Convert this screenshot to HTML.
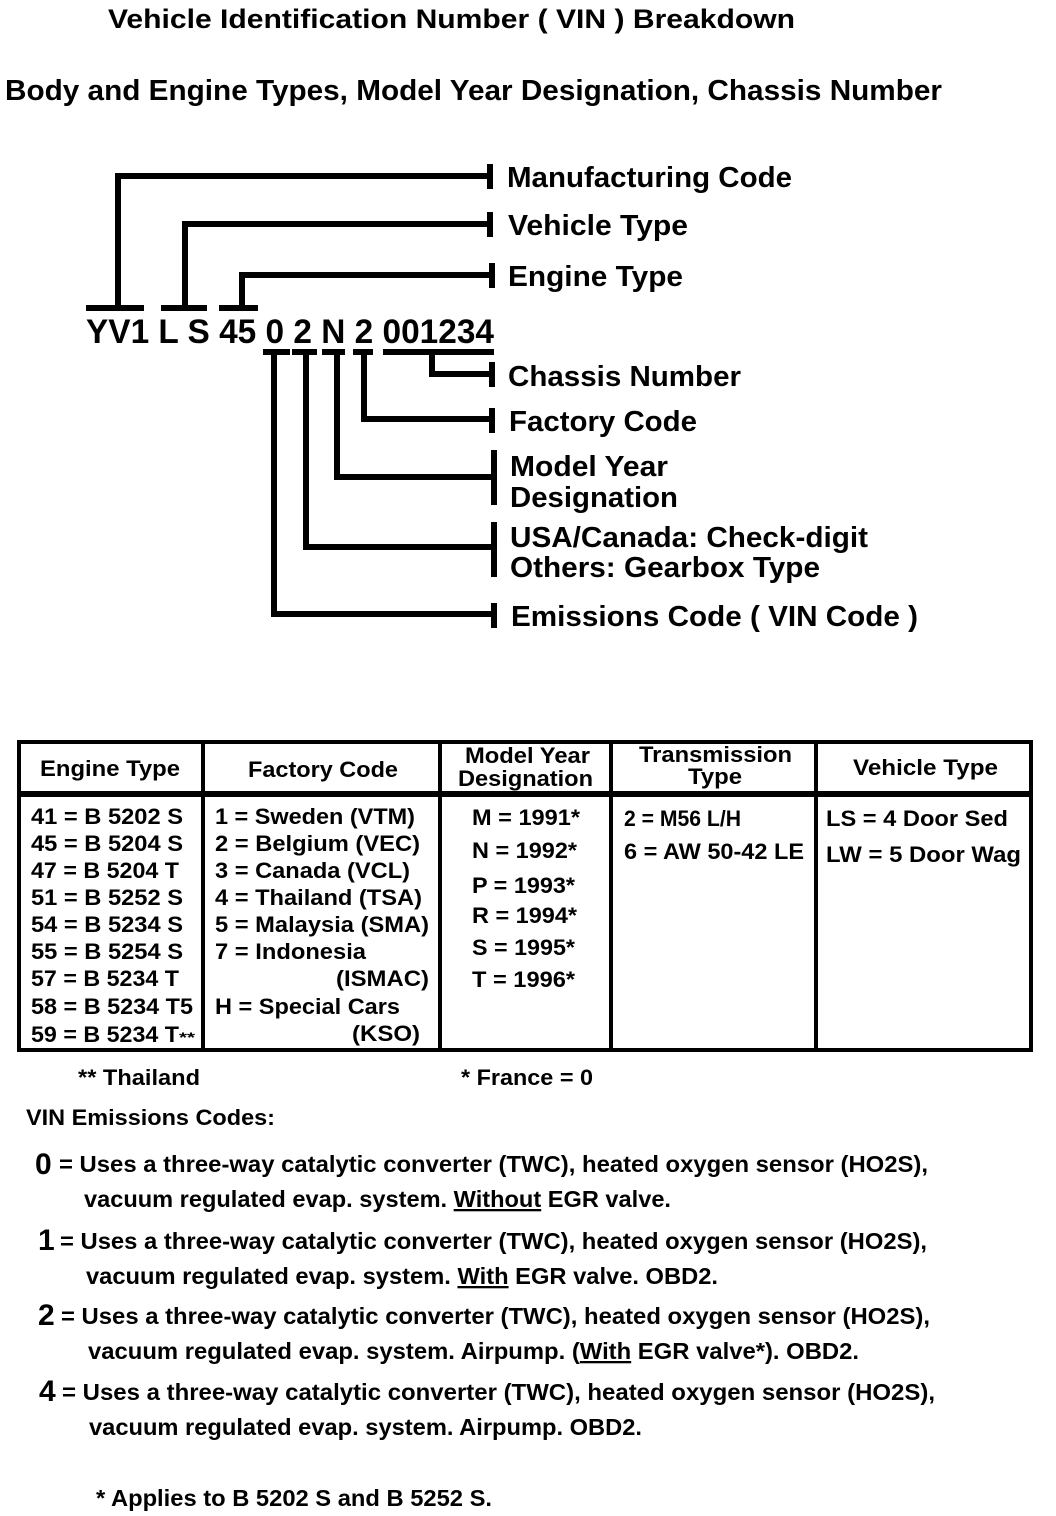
<!DOCTYPE html>
<html><head><meta charset="utf-8"><style>
html,body{margin:0;padding:0;background:#fff;}
svg{display:block;}
text{font-family:"Liberation Sans",Arial,sans-serif;font-weight:bold;fill:#000;}
</style></head><body>
<svg width="1056" height="1516" viewBox="0 0 1056 1516" xmlns="http://www.w3.org/2000/svg">
<g lengthAdjust="spacingAndGlyphs">
<text x="108" y="28" font-size="27" textLength="687" lengthAdjust="spacingAndGlyphs">Vehicle  Identification Number ( VIN ) Breakdown</text>
<text x="5" y="100" font-size="29" textLength="937" lengthAdjust="spacingAndGlyphs">Body and Engine Types, Model Year Designation, Chassis Number</text>
</g>

<!-- connectors -->
<g stroke="#000" stroke-width="6" fill="none">
<polyline points="118,306 118,176 490,176"/>
<line x1="490" y1="164" x2="490" y2="189"/>
<polyline points="185,306 185,224 490,224"/>
<line x1="490" y1="212" x2="490" y2="237"/>
<polyline points="242,306 242,275 492,275"/>
<line x1="492" y1="263" x2="492" y2="288"/>
<line x1="86" y1="308" x2="144" y2="308"/>
<line x1="161" y1="308" x2="207" y2="308"/>
<line x1="219" y1="308" x2="258" y2="308"/>

<line x1="263" y1="352" x2="290" y2="352"/>
<line x1="292" y1="352" x2="317" y2="352"/>
<line x1="322" y1="352" x2="345" y2="352"/>
<line x1="353" y1="352" x2="373" y2="352"/>
<line x1="383" y1="352" x2="494" y2="352"/>
<polyline points="432,352 432,374 492,374"/>
<line x1="492" y1="362" x2="492" y2="387"/>
<polyline points="364,352 364,419 492,419"/>
<line x1="492" y1="408" x2="492" y2="433"/>
<polyline points="337,352 337,477 494,477"/>
<line x1="494" y1="450" x2="494" y2="505"/>
<polyline points="306,352 306,547 494,547"/>
<line x1="494" y1="522" x2="494" y2="577"/>
<polyline points="274,352 274,614 494,614"/>
<line x1="494" y1="603" x2="494" y2="628"/>
</g>

<text x="86" y="343" font-size="34" textLength="408" lengthAdjust="spacingAndGlyphs">YV1 L S 45 0 2 N 2 001234</text>

<g font-size="29">
<text x="507" y="187" textLength="285" lengthAdjust="spacingAndGlyphs">Manufacturing Code</text>
<text x="508" y="235" textLength="180" lengthAdjust="spacingAndGlyphs">Vehicle Type</text>
<text x="508" y="286" textLength="175" lengthAdjust="spacingAndGlyphs">Engine Type</text>
<text x="508" y="386" textLength="233" lengthAdjust="spacingAndGlyphs">Chassis Number</text>
<text x="509" y="431" textLength="188" lengthAdjust="spacingAndGlyphs">Factory Code</text>
<text x="510" y="476" textLength="158" lengthAdjust="spacingAndGlyphs">Model Year</text>
<text x="510" y="507" textLength="168" lengthAdjust="spacingAndGlyphs">Designation</text>
<text x="510" y="547" textLength="358" lengthAdjust="spacingAndGlyphs">USA/Canada: Check-digit</text>
<text x="510" y="577" textLength="310" lengthAdjust="spacingAndGlyphs">Others: Gearbox Type</text>
<text x="511" y="626" textLength="407" lengthAdjust="spacingAndGlyphs">Emissions Code ( VIN Code )</text>
</g>

<!-- table -->
<g stroke="#000" fill="none">
<rect x="19" y="742" width="1012" height="308" stroke-width="4"/>
<line x1="17" y1="794" x2="1033" y2="794" stroke-width="6"/>
<line x1="203" y1="740" x2="203" y2="1052" stroke-width="4"/>
<line x1="440" y1="740" x2="440" y2="1052" stroke-width="4"/>
<line x1="611" y1="740" x2="611" y2="1052" stroke-width="4"/>
<line x1="816" y1="740" x2="816" y2="1052" stroke-width="4"/>
</g>
<g font-size="22">
<text x="40" y="776" textLength="140" lengthAdjust="spacingAndGlyphs">Engine Type</text>
<text x="248" y="777" textLength="150" lengthAdjust="spacingAndGlyphs">Factory Code</text>
<text x="465" y="763" textLength="125" lengthAdjust="spacingAndGlyphs">Model Year</text>
<text x="458" y="786" textLength="135" lengthAdjust="spacingAndGlyphs">Designation</text>
<text x="639" y="762" textLength="153" lengthAdjust="spacingAndGlyphs">Transmission</text>
<text x="688" y="784" textLength="54" lengthAdjust="spacingAndGlyphs">Type</text>
<text x="853" y="775" textLength="145" lengthAdjust="spacingAndGlyphs">Vehicle Type</text>

<text x="31" y="824" textLength="152" lengthAdjust="spacingAndGlyphs">41 = B 5202 S</text>
<text x="31" y="851" textLength="152" lengthAdjust="spacingAndGlyphs">45 = B 5204 S</text>
<text x="31" y="878" textLength="148" lengthAdjust="spacingAndGlyphs">47 = B 5204 T</text>
<text x="31" y="905" textLength="152" lengthAdjust="spacingAndGlyphs">51 = B 5252 S</text>
<text x="31" y="932" textLength="152" lengthAdjust="spacingAndGlyphs">54 = B 5234 S</text>
<text x="31" y="959" textLength="152" lengthAdjust="spacingAndGlyphs">55 = B 5254 S</text>
<text x="31" y="986" textLength="148" lengthAdjust="spacingAndGlyphs">57 = B 5234 T</text>
<text x="31" y="1014" textLength="162" lengthAdjust="spacingAndGlyphs">58 = B 5234 T5</text>
<text x="31" y="1042" textLength="148" lengthAdjust="spacingAndGlyphs">59 = B 5234 T</text>
<text x="179" y="1042" font-size="14" textLength="16" lengthAdjust="spacingAndGlyphs">**</text>

<text x="215" y="824" textLength="200" lengthAdjust="spacingAndGlyphs">1 = Sweden (VTM)</text>
<text x="215" y="851" textLength="205" lengthAdjust="spacingAndGlyphs">2 = Belgium (VEC)</text>
<text x="215" y="878" textLength="195" lengthAdjust="spacingAndGlyphs">3 = Canada (VCL)</text>
<text x="215" y="905" textLength="207" lengthAdjust="spacingAndGlyphs">4 = Thailand (TSA)</text>
<text x="215" y="932" textLength="214" lengthAdjust="spacingAndGlyphs">5 = Malaysia (SMA)</text>
<text x="215" y="959" textLength="151" lengthAdjust="spacingAndGlyphs">7 = Indonesia</text>
<text x="336" y="986" textLength="93" lengthAdjust="spacingAndGlyphs">(ISMAC)</text>
<text x="215" y="1014" textLength="185" lengthAdjust="spacingAndGlyphs">H = Special Cars</text>
<text x="352" y="1041" textLength="68" lengthAdjust="spacingAndGlyphs">(KSO)</text>

<text x="472" y="825" textLength="108" lengthAdjust="spacingAndGlyphs">M = 1991*</text>
<text x="472" y="858" textLength="105" lengthAdjust="spacingAndGlyphs">N = 1992*</text>
<text x="472" y="893" textLength="103" lengthAdjust="spacingAndGlyphs">P = 1993*</text>
<text x="472" y="923" textLength="105" lengthAdjust="spacingAndGlyphs">R = 1994*</text>
<text x="472" y="955" textLength="103" lengthAdjust="spacingAndGlyphs">S = 1995*</text>
<text x="472" y="987" textLength="103" lengthAdjust="spacingAndGlyphs">T = 1996*</text>

<text x="624" y="826" textLength="117" lengthAdjust="spacingAndGlyphs">2 = M56 L/H</text>
<text x="624" y="859" textLength="180" lengthAdjust="spacingAndGlyphs">6 = AW 50-42 LE</text>
<text x="826" y="826" textLength="182" lengthAdjust="spacingAndGlyphs">LS = 4 Door Sed</text>
<text x="826" y="862" textLength="195" lengthAdjust="spacingAndGlyphs">LW = 5 Door Wag</text>

<text x="78" y="1085" textLength="122" lengthAdjust="spacingAndGlyphs">** Thailand</text>
<text x="461" y="1085" textLength="132" lengthAdjust="spacingAndGlyphs">* France = 0</text>
<text x="26" y="1125" textLength="249" lengthAdjust="spacingAndGlyphs">VIN Emissions Codes:</text>
</g>

<g font-size="23">
<text x="35" y="1174" font-size="30">0</text>
<text x="59" y="1172" textLength="869" lengthAdjust="spacingAndGlyphs">= Uses a three-way catalytic converter (TWC), heated oxygen sensor (HO2S),</text>
<text x="84" y="1207" textLength="587" lengthAdjust="spacingAndGlyphs">vacuum regulated evap. system. <tspan text-decoration="underline">Without</tspan> EGR valve.</text>

<text x="38" y="1250" font-size="30">1</text>
<text x="60" y="1249" textLength="867" lengthAdjust="spacingAndGlyphs">= Uses a three-way catalytic converter (TWC), heated oxygen sensor (HO2S),</text>
<text x="86" y="1284" textLength="632" lengthAdjust="spacingAndGlyphs">vacuum regulated evap. system.  <tspan text-decoration="underline">With</tspan> EGR valve. OBD2.</text>

<text x="38" y="1325" font-size="30">2</text>
<text x="61" y="1324" textLength="869" lengthAdjust="spacingAndGlyphs">= Uses a three-way catalytic converter (TWC), heated oxygen sensor (HO2S),</text>
<text x="88" y="1359" textLength="771" lengthAdjust="spacingAndGlyphs">vacuum regulated evap. system. Airpump.  (<tspan text-decoration="underline">With</tspan> EGR valve*). OBD2.</text>

<text x="39" y="1401" font-size="30">4</text>
<text x="62" y="1400" textLength="873" lengthAdjust="spacingAndGlyphs">= Uses a three-way catalytic converter (TWC), heated oxygen sensor (HO2S),</text>
<text x="89" y="1435" textLength="553" lengthAdjust="spacingAndGlyphs">vacuum regulated evap. system. Airpump. OBD2.</text>

<text x="96" y="1506" textLength="396" lengthAdjust="spacingAndGlyphs">* Applies to B 5202 S and B 5252 S.</text>
</g>
</svg>
</body></html>
